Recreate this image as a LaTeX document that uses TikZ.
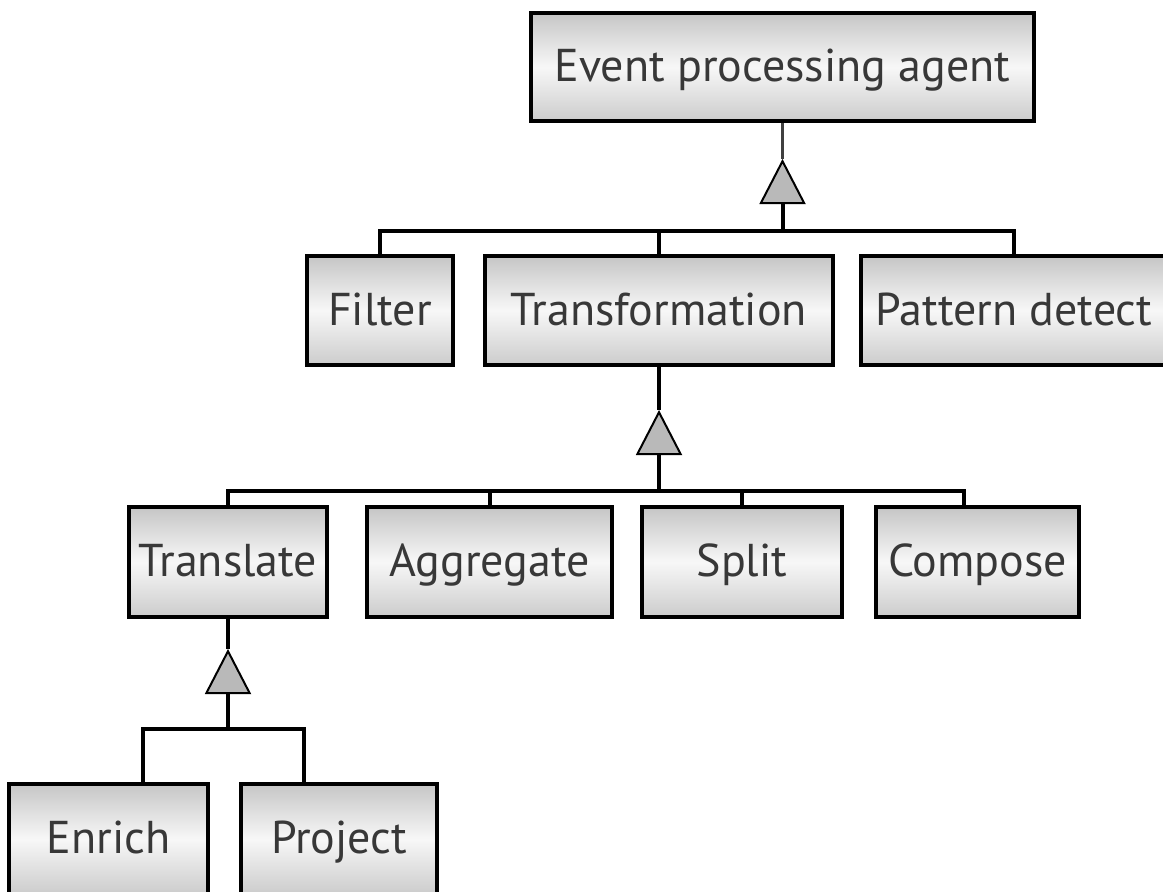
\documentclass[tikz,border=0pt]{standalone}
\usepackage{fontspec}
\setmainfont{PT Sans}
\usetikzlibrary{arrows.meta,positioning,calc}
\tikzset{
  typebox/.style={draw, rectangle, line width=4pt, minimum height=109pt, inner sep=0pt,
    top color=gray!45, bottom color=gray!40, middle color=white!97!black,
    text=black!78, font=\fontsize{46}{52}\selectfont, text height=29pt, text depth=0pt},
  link/.style={line width=4pt},
  isa/.style={line width=4pt, -{Triangle[length=45pt,width=46pt,line width=2pt,fill=gray!55]}}
}
\begin{document}
\begin{tikzpicture}[on grid,node distance=250pt]
  \useasboundingbox (0,0) rectangle (1163pt,-892pt);
  % levels
  \node [typebox,minimum width=503pt,minimum height=108pt] (agent) at (782.5pt,-67pt) {Event processing agent};
  \node [typebox,minimum width=348pt] (transformation) [below left=243.5pt and 123.5pt of agent] {Transformation};
  \node [typebox,minimum width=146pt] (filter) [left=279pt of transformation] {Filter};
  \node [typebox,minimum width=306pt] (pattern) [right=355pt of transformation] {Pattern detect};
  \node [typebox,minimum width=198pt,minimum height=110pt] (translate) [below left=251.5pt and 431pt of transformation] {Translate};
  \node [typebox,minimum width=245pt,minimum height=110pt] (aggregate) [right=261.5pt of translate] {Aggregate};
  \node [typebox,minimum width=200pt,minimum height=110pt] (split) [right=252.5pt of aggregate] {Split};
  \node [typebox,minimum width=203pt,minimum height=110pt] (compose) [right=235.5pt of split] {Compose};
  \node [typebox,minimum width=199pt,minimum height=110pt] (enrich) [below left=277pt and 119.5pt of translate] {Enrich};
  \node [typebox,minimum width=196pt,minimum height=110pt] (project) [right=230.5pt of enrich] {Project};
  % agent -> first level
  \coordinate (tip1) at ([yshift=-36pt]agent.south);
  \coordinate (bus1) at ([yshift=-108pt]agent.south);
  \draw [line width=2.5pt,black!75] (agent.south) -- (tip1);
  \draw [isa] (bus1) -- (tip1);
  \draw [link] (filter.north) |- (bus1) -| (pattern.north);
  \draw [link] (transformation.north) -- (transformation.north |- bus1);
  % transformation -> second level
  \coordinate (tip2) at ([yshift=-43pt]transformation.south);
  \coordinate (bus2) at ([yshift=-124pt]transformation.south);
  \draw [link] (transformation.south) -- (tip2);
  \draw [isa] (bus2) -- (tip2);
  \draw [link] (translate.north) |- (bus2) -| ([xshift=-14pt]compose.north);
  \draw [link] (aggregate.north) -- (aggregate.north |- bus2);
  \draw [link] (split.north) -- (split.north |- bus2);
  % translate -> third level
  \coordinate (tip3) at ([yshift=-30pt]translate.south);
  \coordinate (bus3) at ([yshift=-110pt]translate.south);
  \draw [link] (translate.south) -- (tip3);
  \draw [isa] (bus3) -- (tip3);
  \draw [link] ([xshift=34pt]enrich.north) |- (bus3) -| ([xshift=-35pt]project.north);
\end{tikzpicture}
\end{document}
